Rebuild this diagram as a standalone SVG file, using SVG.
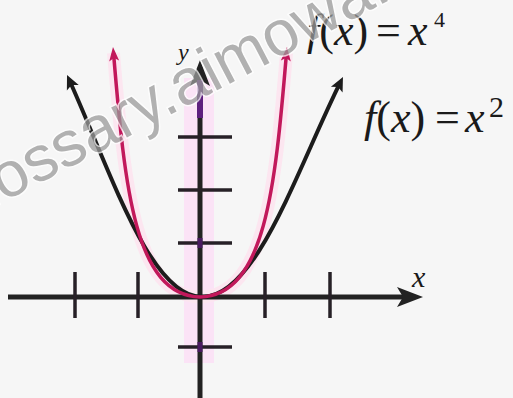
<svg xmlns="http://www.w3.org/2000/svg" width="513" height="398" viewBox="0 0 513 398">
  <style>
    .axis { stroke: #222; stroke-width: 5; fill: none; }
    .tick { stroke: #262026; stroke-width: 3.5; fill: none; }
    .sq { stroke: #1c1c1c; stroke-width: 4; fill: none; }
    .qu { stroke: #c2185b; stroke-width: 3.5; fill: none; }
    .glow { stroke: #fce6f0; stroke-width: 13; fill: none; }
    .lbl { font-family: "Liberation Serif", "Times New Roman", serif; fill: #1a1a1a; }
    .it { font-style: italic; }
    .wm { font-family: "Liberation Sans", Arial, sans-serif; font-size: 64px; fill: #9a9a9a; stroke: #ffffff; stroke-width: 3; paint-order: stroke; opacity: 0.75; }
  </style>
  <defs>
    <marker id="axisArrow" viewBox="-28 -12 30 24" refX="-15" refY="0" markerWidth="30" markerHeight="24" markerUnits="userSpaceOnUse" orient="auto">
      <path d="M0,0 L-26,-10 L-20,0 L-26,10 Z" fill="#222"/>
    </marker>
    <marker id="blackArrow" viewBox="-16 -8 18 16" refX="-6" refY="0" markerWidth="18" markerHeight="16" markerUnits="userSpaceOnUse" orient="auto-start-reverse">
      <path d="M0,0 L-14,-6.5 L-11,0 L-14,6.5 Z" fill="#1c1c1c"/>
    </marker>
    <marker id="redArrow" viewBox="-16 -8 18 16" refX="-6" refY="0" markerWidth="18" markerHeight="16" markerUnits="userSpaceOnUse" orient="auto-start-reverse">
      <path d="M0,0 L-14,-5 L-11,0 L-14,5 Z" fill="#c2185b"/>
    </marker>
  </defs>

  <rect x="0" y="0" width="513" height="398" fill="#f6f6f6"/>

  <g id="highlights">
    <rect x="184" y="78" width="30" height="285" fill="#fbe3f6"/>
    <path class="glow" d="M113.5,53 C125,190 135,295 200,297 C265,295 275,190 286.5,53"/>
  </g>

  <g id="axes">
    <line class="axis" x1="8" y1="297" x2="408" y2="297" marker-end="url(#axisArrow)"/>
    <line class="axis" x1="200" y1="398" x2="200" y2="75" stroke="#2a1530" marker-end="url(#axisArrow)"/>
    <line x1="200" y1="80" x2="200" y2="118" stroke="#5e1f7e" stroke-width="6"/>
    <line class="tick" x1="75" y1="272" x2="75" y2="318"/>
    <line class="tick" x1="138" y1="272" x2="138" y2="318"/>
    <line class="tick" x1="265" y1="272" x2="265" y2="318"/>
    <line class="tick" x1="330" y1="272" x2="330" y2="318"/>
    <line class="tick" x1="178" y1="137" x2="232" y2="137"/>
    <line class="tick" x1="178" y1="190" x2="232" y2="190"/>
    <line class="tick" x1="178" y1="243" x2="232" y2="243"/>
    <line class="tick" x1="178" y1="347" x2="232" y2="347"/>
    <line x1="200" y1="238" x2="200" y2="248" stroke="#4a1a60" stroke-width="5"/>
    <line x1="200" y1="342" x2="200" y2="352" stroke="#4a1a60" stroke-width="5"/>
  </g>

  <g id="curves">
    <path class="sq" d="M69.5,80.5 C110,170 150,297 202,297 C256,297 296,172 340.3,82.4" marker-start="url(#blackArrow)" marker-end="url(#blackArrow)"/>
    <path class="qu" d="M113.5,53 C125,190 135,295 200,297 C265,295 275,190 286.5,53" marker-start="url(#redArrow)" marker-end="url(#redArrow)"/>
  </g>

  <g id="labels">
    <text class="lbl it" x="178" y="60" font-size="24">y</text>
    <text class="lbl it" x="412" y="287" font-size="30">x</text>
    <text class="lbl" x="307" y="45" font-size="44"><tspan class="it">f</tspan>(<tspan class="it">x</tspan>)<tspan x="376">=</tspan><tspan x="408" class="it">x</tspan><tspan x="434" dy="-18" font-size="22">4</tspan></text>
    <text class="lbl" x="364" y="132" font-size="44"><tspan class="it">f</tspan>(<tspan class="it">x</tspan>)<tspan x="435">=</tspan><tspan x="465" class="it">x</tspan><tspan x="489" dy="-15" font-size="30">2</tspan></text>
  </g>

  <g id="watermark">
    <text class="wm" x="-47" y="215" transform="rotate(-3 150 105) rotate(-24.6 -47 215)">glossary.aimowa.com</text>
  </g>
</svg>
